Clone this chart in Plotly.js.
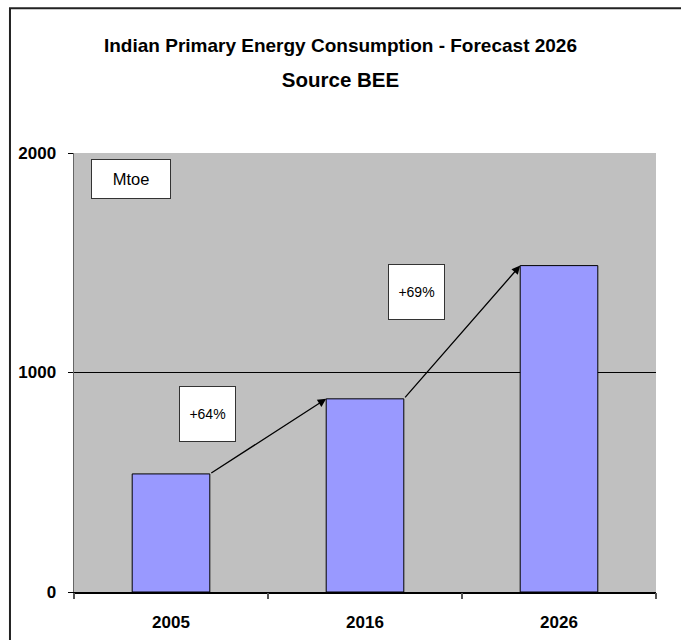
<!DOCTYPE html>
<html>
<head>
<meta charset="utf-8">
<script src="https://cdn.plot.ly/plotly-3.0.1.min.js"></script>
<style>html,body{margin:0;padding:0;background:#fff;}#chart{width:681px;height:640px;}</style>
</head>
<body>
<div id="chart"></div>
<script>
// Data
const years = ['2005', '2016', '2026'];
const consumption = [538, 880, 1487];       // Mtoe
const growthLabels = ['+64%', '+69%'];
const unitLabel = 'Mtoe';
const yTicks = [0, 1000, 2000];
const gridTicks = [1000];
const titleText = 'Indian Primary Energy Consumption - Forecast 2026';
const subtitleText = 'Source BEE';

const FONT = '"Liberation Sans", Arial, sans-serif';
const half = 0.2; // half bar width in category units (bargap 0.6)

const trace = {
  type: 'bar',
  x: years.map((_, i) => i),
  y: consumption,
  width: 2 * half,
  marker: {color: '#9999FF', line: {color: '#000000', width: 1}},
  hoverinfo: 'x+y'
};

// invisible traces carrying the overlay axes (grid line / boundary ticks)
const gridTrace = {type: 'scatter', x: [0], y: [0], yaxis: 'y2', mode: 'markers', marker: {opacity: 0}, hoverinfo: 'skip', showlegend: false};
const tickTrace = {type: 'scatter', x: [0], y: [0], xaxis: 'x2', mode: 'markers', marker: {opacity: 0}, hoverinfo: 'skip', showlegend: false};

const annotations = [];
// growth arrows: from top-right of one bar to top-left of the next
for (let i = 0; i < consumption.length - 1; i++) {
  annotations.push({
    x: i + 1 - half, y: consumption[i + 1], xref: 'x', yref: 'y',
    ax: i + half, ay: consumption[i], axref: 'x', ayref: 'y',
    showarrow: true, arrowhead: 2, arrowsize: 1.3, arrowwidth: 1.3, arrowcolor: '#000', standoff: 0, startstandoff: 0, text: ''
  });
}
// growth label boxes
const labelPos = [[0.188, 811], [1.263, 1369]];
growthLabels.forEach((t, i) => {
  annotations.push({
    x: labelPos[i][0], y: labelPos[i][1], xref: 'x', yref: 'y', text: t, showarrow: false,
    font: {family: FONT, size: 14, color: '#000'}, bgcolor: '#FFFFFF', bordercolor: '#333', borderwidth: 1,
    width: 53, height: 52, align: 'center', valign: 'middle'
  });
});
// unit box
annotations.push({
  x: -0.206, y: 1881, xref: 'x', yref: 'y', text: unitLabel, showarrow: false,
  font: {family: FONT, size: 16.5, color: '#000'}, bgcolor: '#FFFFFF', bordercolor: '#333', borderwidth: 1,
  width: 76, height: 36, align: 'center', valign: 'middle'
});

const layout = {
  width: 681, height: 640,
  margin: {l: 74, r: 25, t: 153, b: 48},
  paper_bgcolor: '#FFFFFF', plot_bgcolor: '#C0C0C0',
  showlegend: false,
  title: {
    text: '<span style="font-size:19px">' + titleText + '</span><br><span style="font-size:20.5px">' + subtitleText + '</span>',
    font: {family: FONT, size: 27, color: '#000', weight: 'bold'},
    x: 0.5, xref: 'container', xanchor: 'center',
    y: 1 - 52 / 640, yref: 'container', yanchor: 'middle'
  },
  xaxis: {
    type: 'linear', range: [-0.5, 2.5],
    tickvals: years.map((_, i) => i), ticktext: years,
    showgrid: false, zeroline: false,
    showline: true, linecolor: '#000', linewidth: 1.5,
    ticks: '',
    tickfont: {family: FONT, size: 17, color: '#000', weight: 'bold'},
    ticklabelstandoff: 14
  },
  xaxis2: {
    overlaying: 'x', range: [-0.5, 2.5], tickvals: [-0.5, 0.5, 1.5, 2.5], ticks: 'outside', ticklen: 6, tickcolor: '#555', tickwidth: 1.5,
    showticklabels: false, showgrid: false, zeroline: false, anchor: 'y'
  },
  yaxis: {
    range: [0, 2000], tickvals: yTicks, ticks: 'outside', ticklen: 5, tickcolor: '#000', tickwidth: 1,
    showgrid: false, zeroline: false, showline: true, linecolor: '#666', linewidth: 1.5,
    tickfont: {family: FONT, size: 17, color: '#000', weight: 'bold'},
    ticklabelstandoff: 8
  },
  yaxis2: {
    overlaying: 'y', range: [0, 2000], tickvals: gridTicks, showgrid: true, gridcolor: '#000', gridwidth: 1,
    showticklabels: false, ticks: '', zeroline: false, showline: false
  },
  annotations: annotations,
  shapes: [{
    type: 'rect', xref: 'paper', yref: 'paper', x0: -0.110, x1: 1.25, y0: -0.3, y1: 1.330,
    line: {color: '#222', width: 2}, fillcolor: 'rgba(0,0,0,0)', layer: 'above'
  }]
};

Plotly.newPlot('chart', [gridTrace, trace, tickTrace], layout, {displayModeBar: false, staticPlot: true});
</script>
</body>
</html>
